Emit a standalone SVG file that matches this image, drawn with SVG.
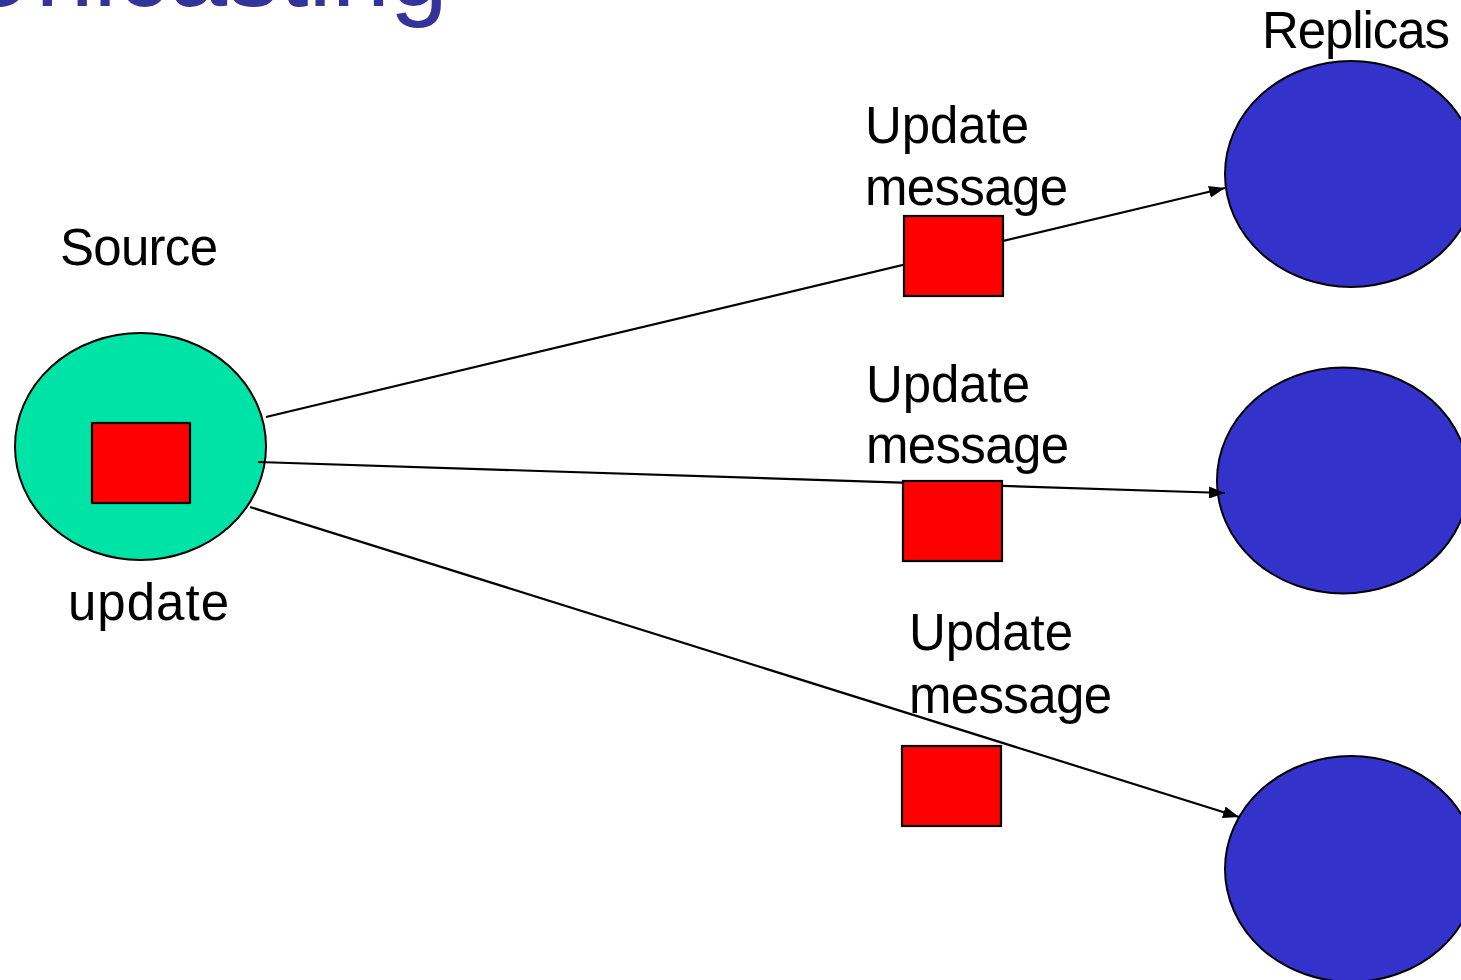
<svg xmlns="http://www.w3.org/2000/svg" width="1461" height="980" viewBox="0 0 1461 980">
  <style>
    .label { font-family: "Liberation Sans", Arial, sans-serif; font-size: 51px; fill: #000000; }
    .title { font-family: "Liberation Sans", Arial, sans-serif; font-size: 106px; fill: #333399; }
    .source { fill: #00E3A6; stroke: #000000; stroke-width: 2; }
    .replica { fill: #3333CC; stroke: #000000; stroke-width: 2; }
    .msg { fill: #FF0000; stroke: #000000; stroke-width: 2.2; }
    .link { fill: none; stroke: #000000; stroke-width: 2.2; marker-end: url(#arrow); }
  </style>
  <defs>
    <marker id="arrow" markerUnits="userSpaceOnUse" markerWidth="17" markerHeight="12" refX="16" refY="6" orient="auto">
      <path d="M0,0 L16,6 L0,12 Z" fill="#000000"/>
    </marker>
  </defs>

  <rect width="1461" height="980" fill="#FFFFFF"/>

  <!-- slide title, running off the top edge -->
  <text class="title" x="-40" y="6" textLength="488" lengthAdjust="spacingAndGlyphs">Unicasting</text>

  <!-- sender -->
  <g id="source">
    <ellipse class="source" cx="140.5" cy="446.5" rx="125.5" ry="113.5"/>
    <text class="label" x="60" y="265" textLength="158">Source</text>
    <text class="label" x="68" y="620" textLength="161">update</text>
  </g>

  <!-- receivers -->
  <g id="replica-1">
    <ellipse class="replica" cx="1351" cy="174" rx="126" ry="113"/>
    <text class="label" x="1262" y="48" textLength="188">Replicas</text>
  </g>
  <g id="replica-2">
    <ellipse class="replica" cx="1343" cy="480.5" rx="126" ry="113"/>
  </g>
  <g id="replica-3">
    <ellipse class="replica" cx="1351" cy="869" rx="126" ry="113"/>
  </g>

  <!-- one unicast link per replica -->
  <g id="connectors">
    <line class="link" x1="266" y1="417" x2="1225" y2="188"/>
    <line class="link" x1="258" y1="462" x2="1225" y2="493"/>
    <line class="link" x1="250" y1="507" x2="1239" y2="817"/>
  </g>

  <!-- payload carried by the source -->
  <g id="source-update">
    <rect class="msg" x="92" y="423" width="98" height="80"/>
  </g>

  <!-- messages in transit -->
  <g id="message-1">
    <rect class="msg" x="904" y="216" width="99" height="80"/>
    <text class="label" x="865" y="143" textLength="164">Update</text>
    <text class="label" x="865" y="205" textLength="203">message</text>
  </g>
  <g id="message-2">
    <rect class="msg" x="903" y="481" width="99" height="80"/>
    <text class="label" x="866" y="402" textLength="164">Update</text>
    <text class="label" x="866" y="463" textLength="203">message</text>
  </g>
  <g id="message-3">
    <rect class="msg" x="902" y="746" width="99" height="80"/>
    <text class="label" x="909" y="650" textLength="164">Update</text>
    <text class="label" x="909" y="713" textLength="203">message</text>
  </g>
</svg>
